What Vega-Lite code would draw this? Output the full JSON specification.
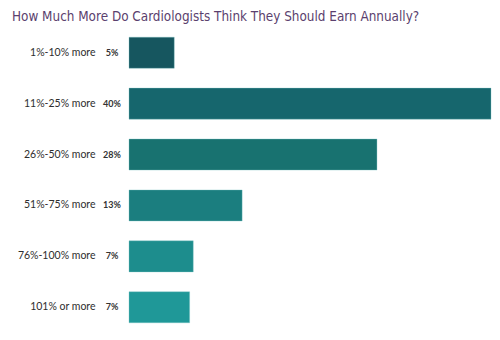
{
  "$schema": "https://vega.github.io/schema/vega-lite/v6.json",
  "width": 362,
  "height": 306,
  "autosize": {"type": "none"},
  "padding": {"left": 129, "top": 27, "right": 9, "bottom": 7},
  "background": "#ffffff",
  "title": {
    "text": "How Much More Do Cardiologists Think They Should Earn Annually?",
    "anchor": "start",
    "frame": "group",
    "dx": -117,
    "offset": 4,
    "font": "DejaVu Sans Condensed, Roboto",
    "fontSize": 13.4,
    "fontWeight": "normal",
    "color": "#5b3f6e"
  },
  "data": {
    "values": [
      {"answer": "1%-10% more", "pct": 5, "label": "5%", "shade": "c1"},
      {"answer": "11%-25% more", "pct": 40, "label": "40%", "shade": "c2"},
      {"answer": "26%-50% more", "pct": 27.4, "label": "28%", "shade": "c3"},
      {"answer": "51%-75% more", "pct": 12.5, "label": "13%", "shade": "c4"},
      {"answer": "76%-100% more", "pct": 7.1, "label": "7%", "shade": "c5"},
      {"answer": "101% or more", "pct": 6.7, "label": "7%", "shade": "c6"}
    ]
  },
  "encoding": {
    "y": {
      "field": "answer",
      "type": "nominal",
      "sort": null,
      "scale": {"paddingInner": 0.39, "paddingOuter": 0.2},
      "axis": {
        "title": null,
        "domain": false,
        "ticks": false,
        "grid": false,
        "labelPadding": 34,
        "labelFont": "Lato",
        "labelFontSize": 10.5,
        "labelColor": "#2e2e2e"
      }
    }
  },
  "layer": [
    {
      "mark": {"type": "bar", "stroke": "#7fc3c3", "strokeWidth": 0.6, "strokeOpacity": 0.6},
      "encoding": {
        "x": {
          "field": "pct",
          "type": "quantitative",
          "scale": {"domain": [0, 40], "nice": false},
          "axis": null
        },
        "color": {
          "field": "shade",
          "type": "nominal",
          "scale": {
            "domain": ["c1", "c2", "c3", "c4", "c5", "c6"],
            "range": ["#16565f", "#16666d", "#187270", "#1b7e7f", "#1d8d8d", "#1f9898"]
          },
          "legend": null
        }
      }
    },
    {
      "mark": {"type": "text", "align": "center", "dx": -17, "font": "Lato", "fontSize": 9, "fontWeight": "bold", "color": "#333333"},
      "encoding": {
        "x": {"datum": 0, "type": "quantitative"},
        "text": {"field": "label"}
      }
    }
  ],
  "config": {"view": {"stroke": null}}
}
